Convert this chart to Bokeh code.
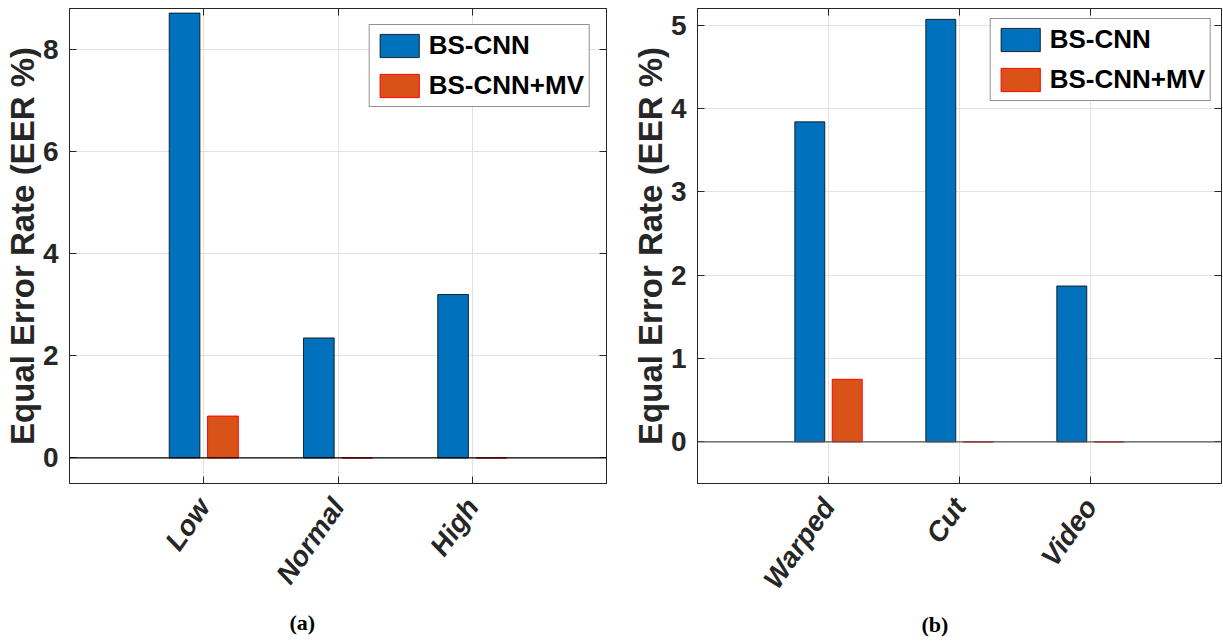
import math
from bokeh.plotting import figure
from bokeh.models import (ColumnDataSource, Range1d, FixedTicker, LinearAxis, Span,
                          Legend, LegendItem, Title)
from bokeh.layouts import row
from bokeh.transform import dodge
from bokeh.embed import file_html
from bokeh.resources import INLINE

# ---- data ----
series_names = ["BS-CNN", "BS-CNN+MV"]
cats_a = ["Low", "Normal", "High"]
bscnn_a = [8.71, 2.35, 3.20]
bscnn_mv_a = [0.82, 0.0, 0.0]
yticks_a = [0, 2, 4, 6, 8]

cats_b = ["Warped", "Cut", "Video"]
bscnn_b = [3.84, 5.07, 1.87]
bscnn_mv_b = [0.75, 0.0, 0.0]
yticks_b = [0, 1, 2, 3, 4, 5]

BLUE = "#0072BD"
ORANGE = "#D95319"
DARK = "#262626"
FONT = "Liberation Sans"


def make_panel(cats, s1, s2, yticks, yr, caption, width, min_left, min_right,
               base_color, leg_margin, cap_offset, cap_standoff):
    pos = list(range(1, len(cats) + 1))
    src = ColumnDataSource(dict(x=pos, s1=s1, s2=s2))
    p = figure(width=width, height=640, output_backend="svg", toolbar_location=None,
               x_range=Range1d(0, len(cats) + 1), y_range=Range1d(*yr),
               min_border_left=min_left, min_border_right=min_right,
               min_border_top=8, min_border_bottom=157)
    p.background_fill_color = "white"
    p.outline_line_color = DARK
    p.outline_line_width = 1

    bw = 0.2286
    r1 = p.vbar(x=dodge("x", -0.1429, range=p.x_range), top="s1", bottom=0, width=bw,
                source=src, fill_color=BLUE, line_color="#000000", line_width=0.8)
    r2 = p.vbar(x=dodge("x", 0.1429, range=p.x_range), top="s2", bottom=0, width=bw,
                source=src, fill_color=ORANGE, line_color="#FF0000", line_width=1)

    p.add_layout(Span(location=0, dimension="width", line_color=base_color, line_width=1.2))

    # axes
    xt = FixedTicker(ticks=pos)
    yt = FixedTicker(ticks=yticks)
    p.xaxis.ticker = xt
    p.yaxis.ticker = yt
    p.xaxis.major_label_overrides = {i: c for i, c in zip(pos, cats)}
    for ax in (p.xaxis[0], p.yaxis[0]):
        ax.major_tick_in = 7
        ax.major_tick_out = 0
        ax.minor_tick_line_color = None
        ax.axis_line_color = DARK
        ax.major_tick_line_color = DARK
        ax.major_label_text_font = FONT
        ax.major_label_text_font_style = "bold"
        ax.major_label_text_color = DARK
    p.yaxis.major_label_text_font_size = "28px"
    p.yaxis.major_label_standoff = 11
    p.yaxis.axis_label = "Equal Error Rate (EER %)"
    p.yaxis.axis_label_text_font = FONT
    p.yaxis.axis_label_text_font_size = "33px"
    p.yaxis.axis_label_text_font_style = "bold"
    p.yaxis.axis_label_text_color = DARK
    p.yaxis.axis_label_standoff = -1
    p.xaxis.major_label_text_font_size = "28px"
    p.xaxis.major_label_text_font_style = "bold italic"
    p.xaxis.major_label_orientation = math.radians(55)
    p.xaxis.major_label_standoff = 18

    # mirrored tick marks (box on), without labels
    right = LinearAxis(ticker=yt, major_label_text_font_size="0px",
                       major_label_text_color=None, major_tick_in=7,
                       major_tick_out=0, minor_tick_line_color=None, axis_line_color=DARK,
                       major_tick_line_color=DARK, major_label_standoff=0)
    top = LinearAxis(ticker=xt, major_label_text_font_size="0px",
                     major_label_text_color=None, major_tick_in=7,
                     major_tick_out=0, minor_tick_line_color=None, axis_line_color=DARK,
                     major_tick_line_color=DARK, major_label_standoff=0)
    p.add_layout(right, "right")
    p.add_layout(top, "above")

    p.xgrid.grid_line_color = "#e2e2e2"
    p.ygrid.grid_line_color = "#e2e2e2"

    legend = Legend(items=[LegendItem(label=series_names[0], renderers=[r1]),
                           LegendItem(label=series_names[1], renderers=[r2])],
                    location="top_right", margin=leg_margin, padding=5, spacing=9,
                    glyph_width=49, glyph_height=29, label_standoff=5,
                    label_text_font=FONT, label_text_font_size="26px",
                    label_text_font_style="bold", label_text_color="#000000",
                    border_line_color=DARK, border_line_width=1)
    p.add_layout(legend)

    t = Title(text=caption, align="left", offset=cap_offset, text_font="Liberation Serif",
              text_font_size="22px", text_font_style="bold", text_color="#000000",
              standoff=cap_standoff)
    p.add_layout(t, "below")
    return p


pa = make_panel(cats_a, bscnn_a, bscnn_mv_a, yticks_a, (-0.5, 8.8), "(a)", 628, 67, 22,
                "#000000", 16, 220, 12)
pb = make_panel(cats_b, bscnn_b, bscnn_mv_b, yticks_b, (-0.5, 5.2), "(b)", 594, 65, 1,
                "#555555", 10, 224, 8)

layout = row(pa, pb)
open("out.html", "w").write(file_html(layout, INLINE))
